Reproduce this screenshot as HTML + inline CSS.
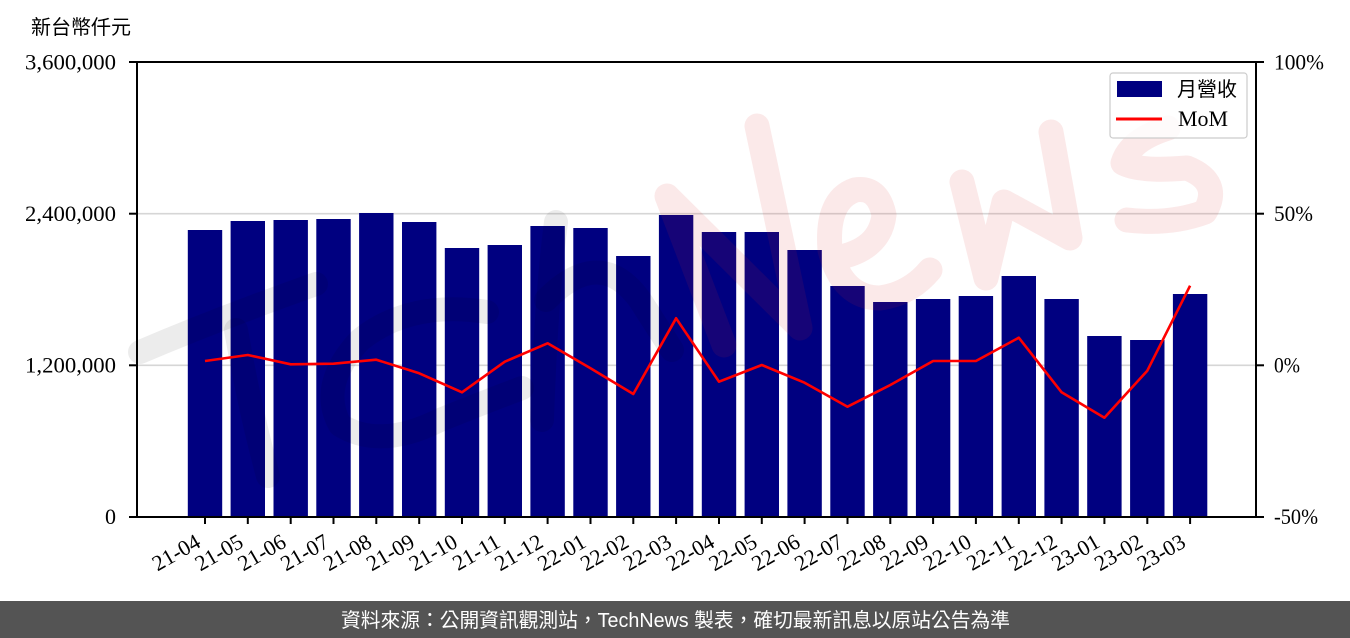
<!DOCTYPE html>
<html>
<head>
<meta charset="utf-8">
<style>
  html,body{margin:0;padding:0;background:#fff;}
  body{width:1350px;height:638px;overflow:hidden;}
  svg{display:block;}
  .num{font-family:"Liberation Serif","DejaVu Serif",serif;font-size:22px;fill:#000;}
  .cjk{font-family:"Liberation Sans","Noto Sans CJK TC","Noto Sans CJK SC",sans-serif;}
</style>
</head>
<body>
<svg width="1350" height="638" viewBox="0 0 1350 638" xmlns="http://www.w3.org/2000/svg">
  <rect x="0" y="0" width="1350" height="638" fill="#fff"/>

  <!-- unit label -->
  <text class="cjk" x="31" y="34" font-size="20" fill="#000">新台幣仟元</text>

  <!-- gridlines -->
  <line x1="137" y1="213.7" x2="1256" y2="213.7" stroke="#d6d6d6" stroke-width="1.6"/>
  <line x1="137" y1="365.3" x2="1256" y2="365.3" stroke="#d6d6d6" stroke-width="1.6"/>

  <!-- bars -->
  <g fill="#000080">
    <rect x="187.8" y="230" width="34.4" height="287"/>
    <rect x="230.6" y="221" width="34.4" height="296"/>
    <rect x="273.5" y="220" width="34.4" height="297"/>
    <rect x="316.3" y="219" width="34.4" height="298"/>
    <rect x="359.1" y="213" width="34.4" height="304"/>
    <rect x="402.0" y="222" width="34.4" height="295"/>
    <rect x="444.8" y="248" width="34.4" height="269"/>
    <rect x="487.6" y="245" width="34.4" height="272"/>
    <rect x="530.4" y="226" width="34.4" height="291"/>
    <rect x="573.3" y="228" width="34.4" height="289"/>
    <rect x="616.1" y="256" width="34.4" height="261"/>
    <rect x="658.9" y="215" width="34.4" height="302"/>
    <rect x="701.8" y="232" width="34.4" height="285"/>
    <rect x="744.6" y="232" width="34.4" height="285"/>
    <rect x="787.4" y="250" width="34.4" height="267"/>
    <rect x="830.3" y="286" width="34.4" height="231"/>
    <rect x="873.1" y="302" width="34.4" height="215"/>
    <rect x="915.9" y="299" width="34.4" height="218"/>
    <rect x="958.7" y="296" width="34.4" height="221"/>
    <rect x="1001.6" y="276" width="34.4" height="241"/>
    <rect x="1044.4" y="299" width="34.4" height="218"/>
    <rect x="1087.2" y="336" width="34.4" height="181"/>
    <rect x="1130.1" y="340" width="34.4" height="177"/>
    <rect x="1172.9" y="294" width="34.4" height="223"/>
  </g>

  <!-- watermark (approximate) -->
  <g fill="none" stroke-linecap="round" stroke-linejoin="round">
    <g stroke="rgba(0,0,0,0.075)" stroke-width="24">
      <path d="M140,352 Q220,318 316,284"/>
      <path d="M236,330 Q250,410 268,476"/>
      <path d="M487,312 Q410,300 360,340 Q318,385 340,425 Q380,450 440,420 Q490,400 522,388"/>
      <path d="M556,222 Q546,300 542,420"/>
      <path d="M546,300 Q600,245 640,300 L672,350"/>
    </g>
    <g stroke="rgba(220,40,40,0.10)" stroke-width="25">
      <path d="M724,345 L667,196 L800,328 L757,126"/>
      <path d="M836,258 Q880,250 884,215 Q878,186 855,190 Q826,200 830,250 Q842,298 880,298 Q910,294 930,270"/>
      <path d="M962,182 L986,278 L1004,202 L1070,238 L1051,132"/>
      <path d="M1168,128 Q1130,140 1123,163 Q1140,172 1187,168 Q1222,182 1205,212 Q1170,225 1127,220"/>
    </g>
  </g>

  <!-- MoM line -->
  <polyline fill="none" stroke="#ff0000" stroke-width="2.6" stroke-linejoin="round"
    points="205,361 247.8,355 290.7,364.3 333.5,363.7 376.3,359.7 419.2,373.3 462,392.3 504.8,361.7 547.6,343.3 590.5,368.3 633.3,394 676.1,318.3 719,381.7 761.8,365 804.6,382.7 847.5,406.7 890.3,385 933.1,361 975.9,361 1018.8,337.7 1061.6,392.3 1104.4,417.7 1147.3,370.7 1190.1,285.7"/>

  <!-- axes frame -->
  <rect x="137" y="62" width="1119" height="455" fill="none" stroke="#000" stroke-width="2"/>

  <!-- left ticks -->
  <g stroke="#000" stroke-width="2">
    <line x1="129" y1="62" x2="137" y2="62"/>
    <line x1="129" y1="213.7" x2="137" y2="213.7"/>
    <line x1="129" y1="365.3" x2="137" y2="365.3"/>
    <line x1="129" y1="517" x2="137" y2="517"/>
    <line x1="1256" y1="62" x2="1264" y2="62"/>
    <line x1="1256" y1="213.7" x2="1264" y2="213.7"/>
    <line x1="1256" y1="365.3" x2="1264" y2="365.3"/>
    <line x1="1256" y1="517" x2="1264" y2="517"/>
  </g>
  <!-- bottom ticks -->
  <g stroke="#000" stroke-width="2">
    <line x1="205" y1="517" x2="205" y2="524"/>
    <line x1="247.8" y1="517" x2="247.8" y2="524"/>
    <line x1="290.7" y1="517" x2="290.7" y2="524"/>
    <line x1="333.5" y1="517" x2="333.5" y2="524"/>
    <line x1="376.3" y1="517" x2="376.3" y2="524"/>
    <line x1="419.2" y1="517" x2="419.2" y2="524"/>
    <line x1="462" y1="517" x2="462" y2="524"/>
    <line x1="504.8" y1="517" x2="504.8" y2="524"/>
    <line x1="547.6" y1="517" x2="547.6" y2="524"/>
    <line x1="590.5" y1="517" x2="590.5" y2="524"/>
    <line x1="633.3" y1="517" x2="633.3" y2="524"/>
    <line x1="676.1" y1="517" x2="676.1" y2="524"/>
    <line x1="719" y1="517" x2="719" y2="524"/>
    <line x1="761.8" y1="517" x2="761.8" y2="524"/>
    <line x1="804.6" y1="517" x2="804.6" y2="524"/>
    <line x1="847.5" y1="517" x2="847.5" y2="524"/>
    <line x1="890.3" y1="517" x2="890.3" y2="524"/>
    <line x1="933.1" y1="517" x2="933.1" y2="524"/>
    <line x1="975.9" y1="517" x2="975.9" y2="524"/>
    <line x1="1018.8" y1="517" x2="1018.8" y2="524"/>
    <line x1="1061.6" y1="517" x2="1061.6" y2="524"/>
    <line x1="1104.4" y1="517" x2="1104.4" y2="524"/>
    <line x1="1147.3" y1="517" x2="1147.3" y2="524"/>
    <line x1="1190.1" y1="517" x2="1190.1" y2="524"/>
  </g>

  <!-- left tick labels -->
  <g class="num" text-anchor="end">
    <text x="116" y="69.5" textLength="91" lengthAdjust="spacingAndGlyphs">3,600,000</text>
    <text x="116" y="221" textLength="91" lengthAdjust="spacingAndGlyphs">2,400,000</text>
    <text x="116" y="372.5" textLength="91" lengthAdjust="spacingAndGlyphs">1,200,000</text>
    <text x="116" y="524">0</text>
  </g>
  <!-- right tick labels -->
  <g class="num">
    <text x="1274" y="69.5" textLength="50" lengthAdjust="spacingAndGlyphs">100%</text>
    <text x="1274" y="221" textLength="39" lengthAdjust="spacingAndGlyphs">50%</text>
    <text x="1274" y="372.5" textLength="26" lengthAdjust="spacingAndGlyphs">0%</text>
    <text x="1274" y="524" textLength="44" lengthAdjust="spacingAndGlyphs">-50%</text>
  </g>

  <!-- x tick labels -->
  <g class="num" text-anchor="end">
    <text transform="translate(202,546) rotate(-30)">21-04</text>
    <text transform="translate(244.8,546) rotate(-30)">21-05</text>
    <text transform="translate(287.7,546) rotate(-30)">21-06</text>
    <text transform="translate(330.5,546) rotate(-30)">21-07</text>
    <text transform="translate(373.3,546) rotate(-30)">21-08</text>
    <text transform="translate(416.2,546) rotate(-30)">21-09</text>
    <text transform="translate(459,546) rotate(-30)">21-10</text>
    <text transform="translate(501.8,546) rotate(-30)">21-11</text>
    <text transform="translate(544.6,546) rotate(-30)">21-12</text>
    <text transform="translate(587.5,546) rotate(-30)">22-01</text>
    <text transform="translate(630.3,546) rotate(-30)">22-02</text>
    <text transform="translate(673.1,546) rotate(-30)">22-03</text>
    <text transform="translate(716,546) rotate(-30)">22-04</text>
    <text transform="translate(758.8,546) rotate(-30)">22-05</text>
    <text transform="translate(801.6,546) rotate(-30)">22-06</text>
    <text transform="translate(844.5,546) rotate(-30)">22-07</text>
    <text transform="translate(887.3,546) rotate(-30)">22-08</text>
    <text transform="translate(930.1,546) rotate(-30)">22-09</text>
    <text transform="translate(972.9,546) rotate(-30)">22-10</text>
    <text transform="translate(1015.8,546) rotate(-30)">22-11</text>
    <text transform="translate(1058.6,546) rotate(-30)">22-12</text>
    <text transform="translate(1101.4,546) rotate(-30)">23-01</text>
    <text transform="translate(1144.3,546) rotate(-30)">23-02</text>
    <text transform="translate(1187.1,546) rotate(-30)">23-03</text>
  </g>

  <!-- legend -->
  <rect x="1110" y="73" width="137" height="65" rx="3" ry="3" fill="rgba(255,255,255,0.8)" stroke="#cccccc" stroke-width="1.2"/>
  <rect x="1117" y="81" width="45" height="16" fill="#000080"/>
  <line x1="1116" y1="119" x2="1162" y2="119" stroke="#ff0000" stroke-width="3"/>
  <text class="cjk" x="1177" y="96" font-size="20" fill="#000">月營收</text>
  <text class="num" x="1178" y="126" textLength="50" lengthAdjust="spacingAndGlyphs">MoM</text>

  <!-- footer -->
  <rect x="0" y="601" width="1350" height="37" fill="#545454"/>
  <text class="cjk" x="341" y="627" font-size="20" fill="#ffffff" textLength="669" lengthAdjust="spacingAndGlyphs">資料來源：公開資訊觀測站，TechNews 製表，確切最新訊息以原站公告為準</text>
</svg>
</body>
</html>
